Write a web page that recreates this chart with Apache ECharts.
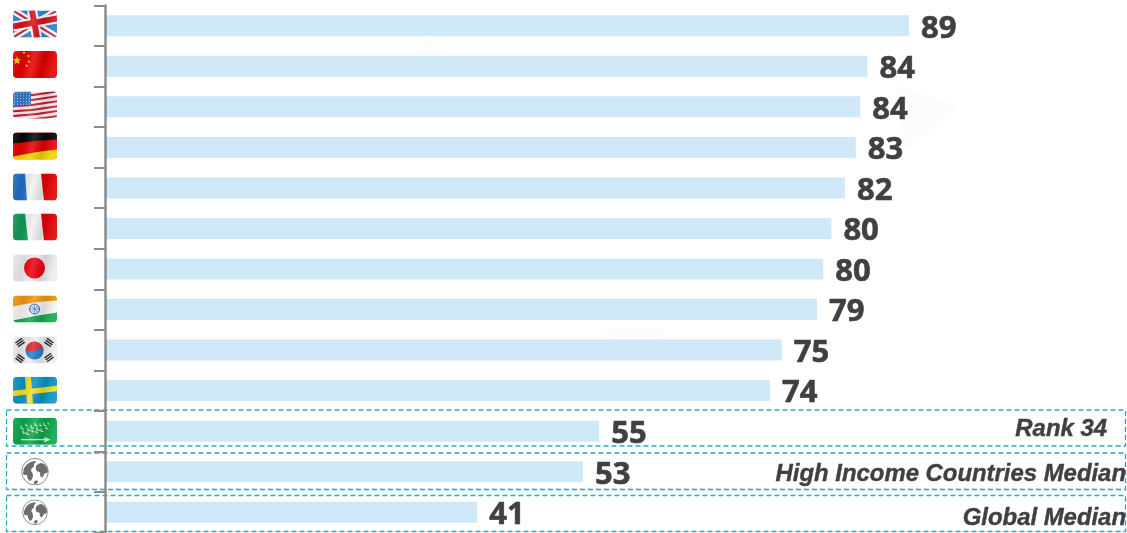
<!DOCTYPE html>
<html><head><meta charset="utf-8">
<style>html,body{margin:0;padding:0;background:#fff}#c{width:1127px;height:533px}</style>
<script src="https://cdn.jsdelivr.net/npm/echarts@6/dist/echarts.min.js"></script>
</head><body><div id="c"></div>
<script>
const categories = ['uk','china','usa','germany','france','italy','japan','india','korea','sweden','saudi','high','global'];
const barValues = [89.0,84.4,83.6,83.1,81.9,80.4,79.5,78.8,74.9,73.6,54.7,52.9,41.2];
const valueLabels = ['89','84','84','83','82','80','80','79','75','74','55','53','41'];
const boxLabels = ['Rank 34','High Income Countries Median','Global Median'];

const waves = `<rect width="44" height="27" fill="url(#w)"/>`;
function flagSvg(inner, shift){
  const s = `<svg xmlns="http://www.w3.org/2000/svg" width="176" height="128" viewBox="0 0 44 32">
  <defs><linearGradient id="w" x1="0" x2="1" y1="0" y2="0.15">
  <stop offset="0" stop-color="#fff" stop-opacity=".12"/><stop offset=".25" stop-color="#000" stop-opacity=".08"/>
  <stop offset=".5" stop-color="#fff" stop-opacity=".14"/><stop offset=".75" stop-color="#000" stop-opacity=".12"/>
  <stop offset="1" stop-color="#fff" stop-opacity=".1"/></linearGradient>
  <clipPath id="r"><rect width="44" height="27" rx="4"/></clipPath></defs>
  <g transform="translate(0,${shift})"><g clip-path="url(#r)">${inner}${waves}</g></g></svg>`;
  return 'data:image/svg+xml;charset=utf-8,' + encodeURIComponent(s);
}
const star = (x,y,r)=>{let p=[];for(let i=0;i<10;i++){const a=-Math.PI/2+i*Math.PI/5,q=i%2?r*0.45:r;p.push((x+q*Math.cos(a)).toFixed(1)+','+(y+q*Math.sin(a)).toFixed(1));}return `<polygon points="${p.join(' ')}" fill="#ffd400"/>`;};
function usaStripes(){let o='<rect width="44" height="27" fill="#f4eeee"/>';for(let i=0;i<6;i++){const y=1+i*4.9;o+=`<path d="M0 ${y+3} Q22 ${y+2} 44 ${y-2} V${y} Q22 ${y+4.2} 0 ${y+5}Z" fill="#c5152b"/>`;}
  o+='<path d="M0 0H18V12.5Q8 14 0 16Z" fill="#2f74c8"/>';
  for(let r=0;r<5;r++)for(let c=0;c<6;c++)o+=`<circle cx="${1.5+c*3}" cy="${1.5+r*2.8}" r=".55" fill="#bcd6f2"/>`;return o;}
function trigram(x,y,a){return `<g transform="translate(${x},${y}) rotate(${a})" fill="#222"><rect x="-4" y="-3" width="8" height="1.4"/><rect x="-4" y="-.7" width="8" height="1.4"/><rect x="-4" y="1.6" width="8" height="1.4"/></g>`;}
function saudiScript(){let o='';const marks=[[8,8,4],[10,12,5],[13,6,3],[15,10,4],[18,7,5],[19,12,3],[22,5,4],[24,9,5],[27,6,3],[28,11,4],[31,5,4],[33,9,3],[35,5,2],[14,14,4],[23,13,3]];
  marks.forEach(m=>{o+=`<path d="M${m[0]} ${m[1]}v${m[2]*0.7}h${m[2]*0.6}" stroke="#e2f5e9" stroke-width="1" fill="none"/>`;});return o;}
const flags = {
 uk:`<rect width="44" height="27" fill="#2b7fcf"/>
   <path d="M0 0L44 27M44 0L0 27" stroke="#fff" stroke-width="7"/>
   <path d="M0 0L44 27M44 0L0 27" stroke="#d2202f" stroke-width="2"/>
   <path d="M0 16L44 8M19 0L24 27" stroke="#fff" stroke-width="10"/>
   <path d="M0 16L44 8M19 0L24 27" stroke="#d8101c" stroke-width="6"/>`,
 china:`<rect width="44" height="27" fill="#e60000"/>${star(4,9.5,4.2)}${star(11,1.7,1.6)}${star(15.3,5,1.6)}${star(16,10.7,1.6)}${star(13.7,14.7,1.6)}`,
 usa:usaStripes(),
 germany:`<rect width="44" height="27" fill="#e80000"/><path d="M0 0H44V7Q22 8 0 11Z" fill="#050505"/><path d="M0 27H44V17Q22 19 0 24Z" fill="#f3d500"/>`,
 france:`<rect width="44" height="27" fill="#f2f2f2"/><path d="M0 0H12L14 27H0Z" fill="#1f6fc8"/><path d="M28 0H44V27H31Z" fill="#e00000"/>`,
 italy:`<rect width="44" height="27" fill="#f2f2f2"/><path d="M0 0H12L15 27H0Z" fill="#0f9a55"/><path d="M28 0H44V27H31Z" fill="#e00000"/>`,
 japan:`<rect width="44" height="27" fill="#ececec"/><circle cx="21.5" cy="13.5" r="10.5" fill="#f00010"/>`,
 india:`<rect width="44" height="27" fill="#f4f4f4"/><path d="M0 0H44V5Q22 6 0 11Z" fill="#f2960f"/><path d="M0 27H44V17Q22 20 0 25Z" fill="#12a84f"/><circle cx="21.5" cy="13.5" r="5" fill="#cfe2f3" stroke="#2a63a8" stroke-width="1"/><path d="M21.5 8.5V18.5M16.5 13.5H26.5M18 10L25 17M25 10L18 17" stroke="#2a63a8" stroke-width=".5"/>`,
 korea:`<rect width="44" height="27" fill="#efefef"/><circle cx="21.5" cy="14" r="9" fill="#1f7fd0"/><path d="M12.5 14A9 9 0 0 1 30.5 14Q28 10 25 13T12.5 14Z" fill="#e0262e"/>${trigram(7,6,-35)}${trigram(36,6,35)}${trigram(7,22,35)}${trigram(36,21,-35)}`,
 sweden:`<rect width="44" height="27" fill="#0b93c6"/><path d="M0 14L44 9V14.5L0 19.5Z" fill="#f5e020"/><path d="M12 0H18L20 27H14Z" fill="#f5e020"/>`,
 saudi:`<rect width="44" height="27" fill="#0aa84a"/>${saudiScript()}<path d="M8 22H34M31 20L36 22L31 24" stroke="#d8f2e2" stroke-width="1.2" fill="none"/>`
};
function globeSvg(size){
  const g=`<circle cx="22" cy="14" r="13.3" fill="#fff" stroke="#8a8a8a" stroke-width="1"/>
  <path d="M10 16Q10 9 16 5Q22 2 23 4Q20 7 21 9Q18 10 18 13Q20 15 20 18Q19 24 16 23Q14 20 14 17Q11 18 10 16Z" fill="#6e6e6e"/>
  <path d="M23 8Q28 3 32 7Q36 12 34.5 15Q31 15 30 19Q28 21 27 17Q28 14 25 14Q22 13 23 8Z" fill="#6e6e6e"/>
  <path d="M21 24Q24 21 25 24Q24 27 21 26Z" fill="#6e6e6e"/>`;
  const scale=size/28;
  const s=`<svg xmlns="http://www.w3.org/2000/svg" width="176" height="${size*4}" viewBox="0 0 44 ${size}"><g transform="translate(${22-22*scale},0) scale(${scale})">${g}</g></svg>`;
  return 'data:image/svg+xml;charset=utf-8,'+encodeURIComponent(s);
}
const shifts={uk:0.7,china:0.7,usa:0.6,germany:1.1,france:1.5,italy:1.0,japan:1.5,india:2,korea:2.5,sweden:2.2,saudi:2.5};
const rich={};
categories.forEach(k=>{
  if(flags[k]) rich[k]={width:44,height:32,backgroundColor:{image:flagSvg(flags[k],shifts[k])}};
});
rich.high={width:44,height:28,backgroundColor:{image:globeSvg(28)}};
rich.global={width:44,height:26,backgroundColor:{image:globeSvg(26)}};

const chart=echarts.init(document.getElementById('c'),null,{renderer:'canvas'});
const boxStyle={fill:'transparent',stroke:'#2ba6c2',lineWidth:1.3,lineDash:[5,3]};
const textStyle={fill:'#404040',stroke:'#404040',lineWidth:0.4,font:'italic bold 23.9px "Liberation Sans"',textAlign:'right',textVerticalAlign:'middle'};
const faint={fill:'#fcfcfc'};
chart.setOption({
  animation:false,
  backgroundColor:'#ffffff',
  grid:{left:105,right:2,top:5.5,bottom:0.5,containLabel:false},
  xAxis:{type:'value',min:0,max:112.9,show:false},
  yAxis:{type:'category',inverse:true,data:categories,z:5,
    axisLine:{show:true,lineStyle:{color:'#8c8c8c',width:2.5}},
    axisTick:{show:true,length:11,lineStyle:{color:'#8c8c8c',width:2}},
    axisLabel:{show:true,interval:0,margin:48,align:'right',formatter:v=>'{'+v+'| }',rich}
  },
  series:[{type:'bar',data:barValues,barWidth:21,itemStyle:{color:'#cfe9f8'},
    label:{show:true,position:'right',distance:12,offset:[0,3],color:'#404040',fontFamily:'"Open Sans"',fontWeight:'bold',fontSize:31,
      textBorderColor:'#404040',textBorderWidth:0.6,
      formatter:p=>valueLabels[p.dataIndex]}}],
  graphic:[
    {type:'polygon',shape:{points:[[896,85],[958,106],[905,151]]},style:faint,z:0},
    {type:'polygon',shape:{points:[[430,39],[447,56],[414,56]]},style:faint,z:0},
    {type:'polygon',shape:{points:[[602,328],[665,328],[662,346],[620,346]]},style:faint,z:0},
    {type:'rect',shape:{x:6.5,y:410,width:1119,height:36},style:boxStyle,z:5},
    {type:'rect',shape:{x:6.5,y:453,width:1119,height:36.5},style:boxStyle,z:5},
    {type:'rect',shape:{x:6.5,y:495.5,width:1119,height:36},style:boxStyle,z:5},
    {type:'text',x:1107,y:429.5,style:{...textStyle,text:boxLabels[0]},z:6},
    {type:'text',x:1126,y:474,style:{...textStyle,text:boxLabels[1]},z:6},
    {type:'text',x:1126,y:518,style:{...textStyle,text:boxLabels[2]},z:6}
  ]
});
</script></body></html>
